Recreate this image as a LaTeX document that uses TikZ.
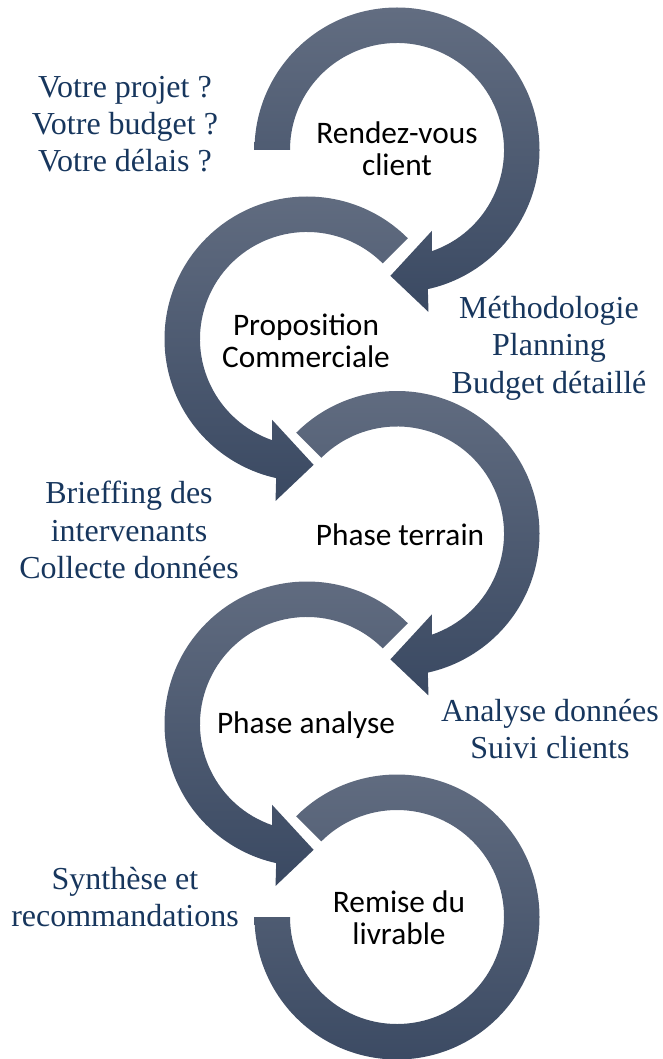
\documentclass[tikz,border=0pt]{standalone}
\usepackage{fontspec}
\setmainfont{Liberation Serif}
\newfontfamily\stepfont{Carlito}
\usepackage{tikz}
\usetikzlibrary{positioning}

\definecolor{bandtop}{RGB}{98,109,129}
\definecolor{bandbottom}{RGB}{58,73,98}
\definecolor{notetext}{RGB}{23,54,93}

\begin{document}
\begin{tikzpicture}[
    x=0.75pt, y=0.75pt,
    band/.style={top color=bandtop, bottom color=bandbottom, draw=none},
    steplabel/.style={align=center, text=black, font=\stepfont\fontsize{23.5}{24}\selectfont},
    note/.style={align=center, text=notetext, font=\fontsize{24}{28}\selectfont}
]
    \useasboundingbox (0,0) rectangle (663,-1059);

    \coordinate (rdv) at (397,-150);
    \coordinate (propo) at (307,-339);
    \coordinate (terrain) at (397,-533.5);
    \coordinate (analyse) at (307,-724);
    \coordinate (remise) at (397,-917);

    % clockwise arrows
    \shade[band, shift={(rdv)}] (180:142.5) arc[start angle=180, end angle=-77.5, radius=142.5]
        -- (-79:165) -- (-93:126) -- (-66.6:88) -- (-71:107)
        arc[start angle=-71, end angle=180, radius=107] -- cycle;
    \shade[band, shift={(terrain)}] (135:142.5) arc[start angle=135, end angle=-77.5, radius=142.5]
        -- (-79:165) -- (-93:126) -- (-66.6:88) -- (-71:107)
        arc[start angle=-71, end angle=135, radius=107] -- cycle;

    % counter-clockwise arrows
    \shade[band, shift={(propo)}] (45:142.5) arc[start angle=45, end angle=257.5, radius=142.5]
        -- (259:165) -- (273:126) -- (246.6:88) -- (251:107)
        arc[start angle=251, end angle=45, radius=107] -- cycle;
    \shade[band, shift={(analyse)}] (45:142.5) arc[start angle=45, end angle=257.5, radius=142.5]
        -- (259:165) -- (273:126) -- (246.6:88) -- (251:107)
        arc[start angle=251, end angle=45, radius=107] -- cycle;

    % last ring, no head
    \shade[band, shift={(remise)}] (135:142.5) arc[start angle=135, end angle=-180, radius=142.5]
        -- (180:107) arc[start angle=-180, end angle=135, radius=107] -- cycle;

    \node[steplabel] (rdvtxt) at (397,-149) {Rendez-vous\\client};
    \node[steplabel] (propotxt) at (306,-341) {Proposition\\Commerciale};
    \node[steplabel] (terraintxt) at (400,-535) {Phase terrain};
    \node[steplabel] (analysetxt) at (306,-725) {Phase analyse};
    \node[steplabel] (remisetxt) at (399,-918) {Remise du\\livrable};

    \node[note] (questions) at (125,-124) {Votre projet ?\\Votre budget ?\\Votre délais ?};
    \node[note] (methodo) at (549,-348) {Méthodologie\\Planning\\Budget détaillé};
    \node[note] (briefing) at (129,-530) {Brieffing des\\intervenants\\Collecte données};
    \node[note] (donnees) at (550,-729) {Analyse données\\Suivi clients};
    \node[note] (synthese) at (125,-897) {Synthèse et\\recommandations};
\end{tikzpicture}
\end{document}
